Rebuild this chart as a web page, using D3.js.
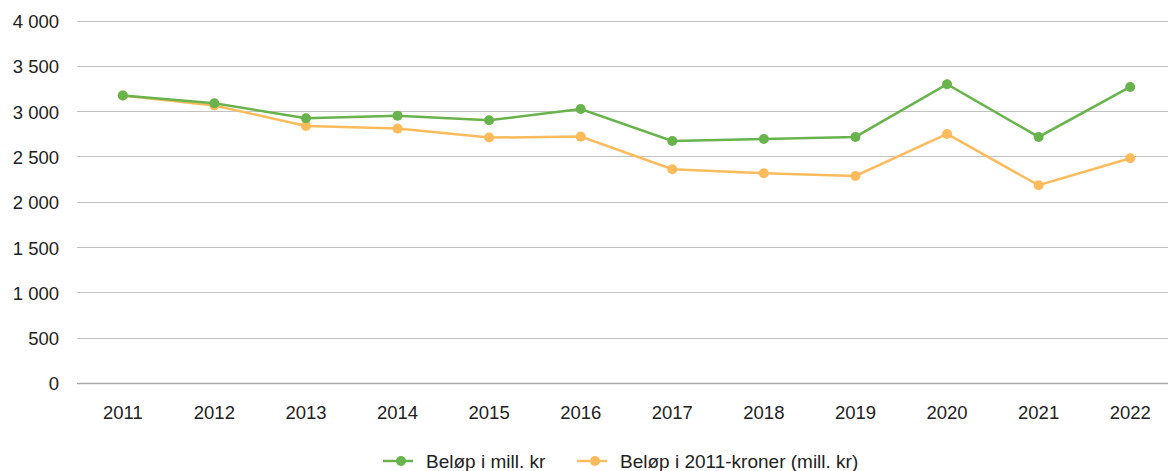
<!DOCTYPE html>
<html>
<head>
<meta charset="utf-8">
<script src="https://cdn.jsdelivr.net/npm/d3@7"></script>
<style>
  body { margin: 0; background: #fff; }
  svg text { font-family: "Liberation Sans", Arial, Helvetica, sans-serif; fill: #222; }
</style>
</head>
<body>
<div id="chart"></div>
<script>
// data
const years = ["2011", "2012", "2013", "2014", "2015", "2016", "2017", "2018", "2019", "2020", "2021", "2022"];
const belop = [3172, 3087, 2921, 2950, 2899, 3024, 2671, 2693, 2715, 3297, 2715, 3267];
const belop2011 = [3172, 3063, 2837, 2807, 2708, 2719, 2359, 2315, 2285, 2748, 2182, 2480];
const yTicks = [0, 500, 1000, 1500, 2000, 2500, 3000, 3500, 4000];
const seriesNames = ["Beløp i mill. kr", "Beløp i 2011-kroner (mill. kr)"];
const seriesColors = ["#69b34c", "#fdbb5c"];

const width = 1170, height = 471;
const margin = {top: 20.5, right: 2, bottom: 88, left: 77};

const svg = d3.select("#chart").append("svg")
    .attr("width", width)
    .attr("height", height);

// the category bands run a little past the right end of the gridlines
const x = d3.scaleBand()
    .domain(years)
    .range([margin.left, 1176]);

const y = d3.scaleLinear()
    .domain([0, 4000])
    .range([height - margin.bottom, margin.top]);

const fmt = v => v >= 1000 ? d3.format(",")(v).replace(/,/g, " ") : String(v);

// gridlines
svg.append("g").selectAll("line")
    .data(yTicks)
    .enter().append("line")
    .attr("x1", margin.left)
    .attr("x2", width - margin.right)
    .attr("y1", d => Math.round(y(d)) + 0.5)
    .attr("y2", d => Math.round(y(d)) + 0.5)
    .attr("stroke", d => d === 0 ? "#aaa" : "#c2c2c2")
    .attr("stroke-width", d => d === 0 ? 1.5 : 1.2);

// y labels
svg.append("g").selectAll("text")
    .data(yTicks)
    .enter().append("text")
    .attr("x", 59)
    .attr("y", d => y(d) + 1)
    .attr("dy", "0.35em")
    .attr("text-anchor", "end")
    .style("font-size", "18.5px")
    .text(fmt);

// x labels
svg.append("g").selectAll("text")
    .data(years)
    .enter().append("text")
    .attr("x", d => x(d) + x.bandwidth() / 2)
    .attr("y", 413)
    .attr("dy", "0.35em")
    .attr("text-anchor", "middle")
    .style("font-size", "18.5px")
    .text(d => d);

const line = d3.line()
    .x((d, i) => x(years[i]) + x.bandwidth() / 2)
    .y(d => y(d));

// orange first so green is on top
[belop2011, belop].forEach((vals, k) => {
    const color = k === 0 ? seriesColors[1] : seriesColors[0];
    svg.append("path")
        .datum(vals)
        .attr("fill", "none")
        .attr("stroke", color)
        .attr("stroke-width", 2.5)
        .attr("d", line);
    svg.append("g").selectAll("circle")
        .data(vals)
        .enter().append("circle")
        .attr("cx", (d, i) => x(years[i]) + x.bandwidth() / 2)
        .attr("cy", d => y(d))
        .attr("r", 5)
        .attr("fill", color);
});

// legend
const legendX = [383, 577];
const legend = svg.append("g").selectAll("g")
    .data(seriesNames)
    .enter().append("g")
    .attr("transform", (d, i) => "translate(" + legendX[i] + ",461)");
legend.append("line")
    .attr("x1", 0).attr("x2", 30)
    .attr("stroke", (d, i) => seriesColors[i])
    .attr("stroke-width", 2.5);
legend.append("circle")
    .attr("cx", 18).attr("r", 5)
    .attr("fill", (d, i) => seriesColors[i]);
legend.append("text")
    .attr("x", 43)
    .attr("dy", "0.35em")
    .style("font-size", "19px")
    .text(d => d);
</script>
</body>
</html>
